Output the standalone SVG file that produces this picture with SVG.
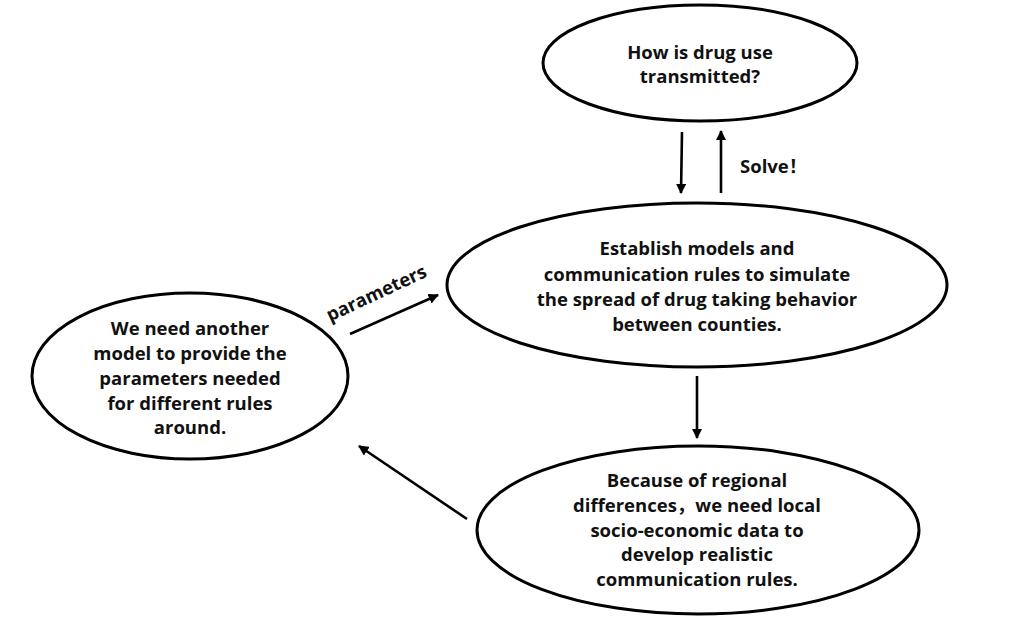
<svg xmlns="http://www.w3.org/2000/svg" width="1036" height="620" viewBox="0 0 1036 620">
<defs>
<marker id="ah" viewBox="0 0 10 10" refX="9" refY="5" markerWidth="4" markerHeight="4" orient="auto" markerUnits="strokeWidth">
<path d="M0,0 L10,5 L0,10 z" fill="#000"/>
</marker>
<style>
.node ellipse{fill:#fff;stroke:#000;stroke-width:3}
.t{font-family:"Open Sans","Noto Sans","Noto Sans CJK SC",sans-serif;font-weight:700;font-size:18.5px;fill:#111;text-anchor:middle}
.c line{stroke:#000;stroke-width:2.6;marker-end:url(#ah)}
</style>
</defs>
<rect width="1036" height="620" fill="#fff"/>
<g id="n-top" class="node">
<ellipse cx="700" cy="63" rx="157" ry="58"/>
<text class="t" x="700" y="59">How is drug use</text>
<text class="t" x="700" y="83">transmitted?</text>
</g>
<g id="n-mid" class="node">
<ellipse cx="697" cy="285" rx="250" ry="82"/>
<text class="t" x="697" y="255">Establish models and</text>
<text class="t" x="697" y="281">communication rules to simulate</text>
<text class="t" x="697" y="306">the spread of drug taking behavior</text>
<text class="t" x="697" y="331">between counties.</text>
</g>
<g id="n-left" class="node">
<ellipse cx="190" cy="376" rx="158" ry="83"/>
<text class="t" x="190" y="335">We need another</text>
<text class="t" x="190" y="360">model to provide the</text>
<text class="t" x="190" y="385">parameters needed</text>
<text class="t" x="190" y="410">for different rules</text>
<text class="t" x="190" y="434">around.</text>
</g>
<g id="n-bot" class="node">
<ellipse cx="698" cy="530" rx="221" ry="84"/>
<text class="t" x="697" y="487">Because of regional</text>
<text class="t" x="697" y="512">differences，we need local</text>
<text class="t" x="697" y="537">socio-economic data to</text>
<text class="t" x="697" y="561">develop realistic</text>
<text class="t" x="697" y="586">communication rules.</text>
</g>
<g id="connectors" class="c">
<line x1="682" y1="132" x2="681" y2="193"/>
<line x1="721" y1="193" x2="721" y2="131"/>
<line x1="697" y1="376" x2="697" y2="438"/>
<line x1="350" y1="334" x2="438" y2="295"/>
<line x1="467" y1="519" x2="359" y2="446"/>
<text class="t" x="740" y="173" style="text-anchor:start">Solve！</text>
<text class="t" transform="translate(379,299) rotate(-25)" x="0" y="0">parameters</text>
</g>
</svg>
